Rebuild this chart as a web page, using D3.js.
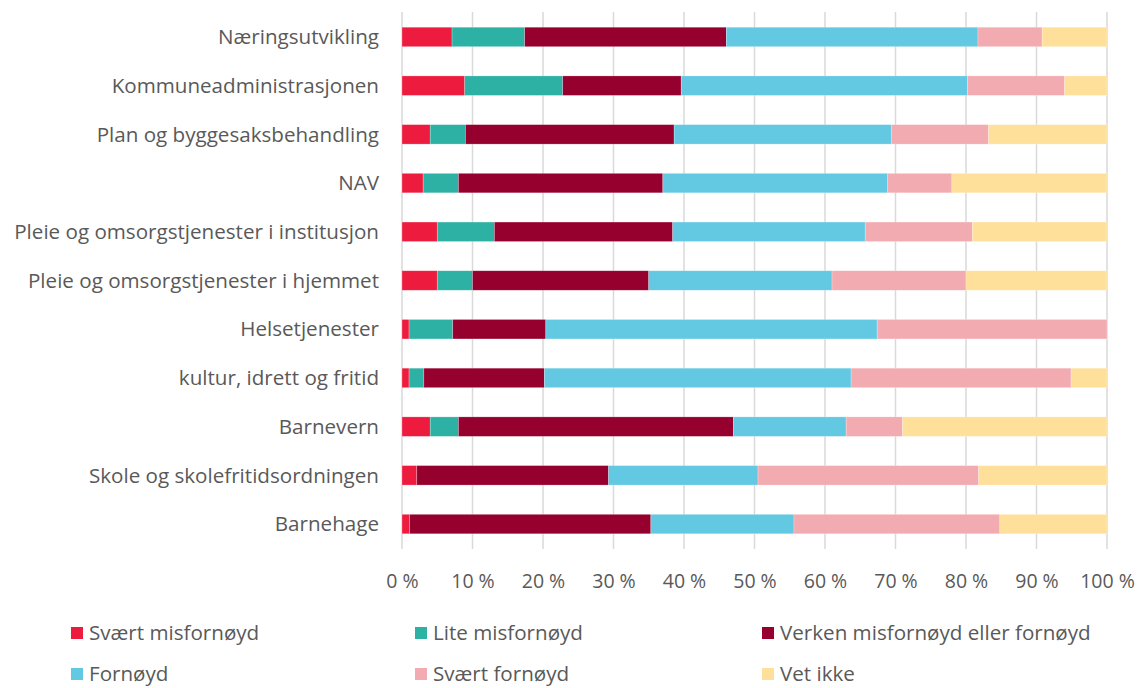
<!DOCTYPE html>
<html>
<head>
<meta charset="utf-8">
<script src="https://cdn.jsdelivr.net/npm/d3@7"></script>
<style>
  body { margin: 0; background: #fff; }
  text { font-family: "Open Sans", sans-serif; fill: #595959; }
</style>
</head>
<body>
<div id="chart"></div>
<script>
// categories, top to bottom
var categories = [
    "Næringsutvikling",
    "Kommuneadministrasjonen",
    "Plan og byggesaksbehandling",
    "NAV",
    "Pleie og omsorgstjenester i institusjon",
    "Pleie og omsorgstjenester i hjemmet",
    "Helsetjenester",
    "kultur, idrett og fritid",
    "Barnevern",
    "Skole og skolefritidsordningen",
    "Barnehage"
];

var seriesNames = ["Svært misfornøyd", "Lite misfornøyd", "Verken misfornøyd eller fornøyd",
    "Fornøyd", "Svært fornøyd", "Vet ikke"];
var seriesColors = ["#ED1C3E", "#2EB1A5", "#96002E", "#63C9E3", "#F2ABB0", "#FFE09B"];

// percent per category, same order as categories
var svaertMisfornoyd = [7.1, 8.9, 4.0, 3.0, 5.0, 5.0, 1.0, 1.0, 4.0, 2.1, 1.1];
var liteMisfornoyd   = [10.3, 13.9, 5.0, 5.0, 8.1, 5.0, 6.2, 2.1, 4.0, 0, 0];
var verken           = [28.6, 16.8, 29.6, 29.0, 25.3, 25.0, 13.2, 17.1, 39.0, 27.2, 34.2];
var fornoyd          = [35.7, 40.6, 30.8, 31.9, 27.3, 26.0, 47.0, 43.5, 16.0, 21.2, 20.3];
var svaertFornoyd    = [9.1, 13.8, 13.8, 9.1, 15.2, 19.0, 32.6, 31.2, 8.0, 31.3, 29.2];
var vetIkke          = [9.2, 6.0, 16.8, 22.0, 19.1, 20.0, 0, 5.1, 29.0, 18.2, 15.2];

var xTicks = [0, 10, 20, 30, 40, 50, 60, 70, 80, 90, 100];

var seriesValues = [svaertMisfornoyd, liteMisfornoyd, verken, fornoyd, svaertFornoyd, vetIkke];

var rows = categories.map(function(c, i) {
    var r = { name: c };
    seriesNames.forEach(function(s, j) { r[s] = seriesValues[j][i]; });
    return r;
});

var width = 1141, height = 688;
var svg = d3.select("#chart").append("svg")
    .attr("width", width)
    .attr("height", height);

var x = d3.scaleLinear().domain([0, 100]).range([402, 1107]);
var y = d3.scaleBand().domain(categories).range([12.6, 548.4])
    .paddingInner(0.6).paddingOuter(0.3);
var color = d3.scaleOrdinal().domain(seriesNames).range(seriesColors);

var fontSize = 20.6;

// gridlines
svg.append("g").selectAll("line")
    .data(xTicks)
    .enter().append("line")
    .attr("x1", d => x(d)).attr("x2", d => x(d))
    .attr("y1", 12).attr("y2", 549)
    .attr("stroke", "#d9d9d9")
    .attr("stroke-width", 1.5);

// bars
var stacked = d3.stack().keys(seriesNames)(rows);
svg.append("g").selectAll("g")
    .data(stacked)
    .enter().append("g")
    .attr("fill", d => color(d.key))
    .selectAll("rect")
    .data(d => d)
    .enter().append("rect")
    .attr("x", d => x(d[0]))
    .attr("y", d => y(d.data.name))
    .attr("width", d => x(d[1]) - x(d[0]))
    .attr("height", y.bandwidth())
    .attr("stroke", "#fff")
    .attr("stroke-opacity", 0.4)
    .attr("stroke-width", 0.6);

// category labels
svg.append("g").selectAll("text")
    .data(categories)
    .enter().append("text")
    .attr("x", 379)
    .attr("y", d => y(d) + y.bandwidth() / 2)
    .attr("dy", "0.35em")
    .attr("text-anchor", "end")
    .style("font-size", fontSize + "px")
    .text(d => d);

// x axis
var xAxis = d3.axisBottom(x)
    .tickValues(xTicks)
    .tickSize(0)
    .tickPadding(0)
    .tickFormat(d => d + " %");

var axisG = svg.append("g")
    .attr("transform", "translate(0,581)")
    .call(xAxis);
axisG.select(".domain").remove();
axisG.selectAll("text")
    .attr("dy", "0.35em")
    .attr("y", 0)
    .style("font-size", "19.5px")
    .style("font-family", "'Open Sans', sans-serif")
    .attr("fill", "#595959");

// legend
var legendX = [71, 415, 762];
var legendY = [633, 674];
var legend = svg.append("g").selectAll("g")
    .data(seriesNames)
    .enter().append("g")
    .attr("transform", (d, i) => "translate(" + legendX[i % 3] + "," + legendY[Math.floor(i / 3)] + ")");

legend.append("rect")
    .attr("x", 0).attr("y", -6)
    .attr("width", 12).attr("height", 12)
    .attr("fill", d => color(d));

legend.append("text")
    .attr("x", 18)
    .attr("y", 0)
    .attr("dy", "0.35em")
    .style("font-size", fontSize + "px")
    .text(d => d);
</script>
</body>
</html>
